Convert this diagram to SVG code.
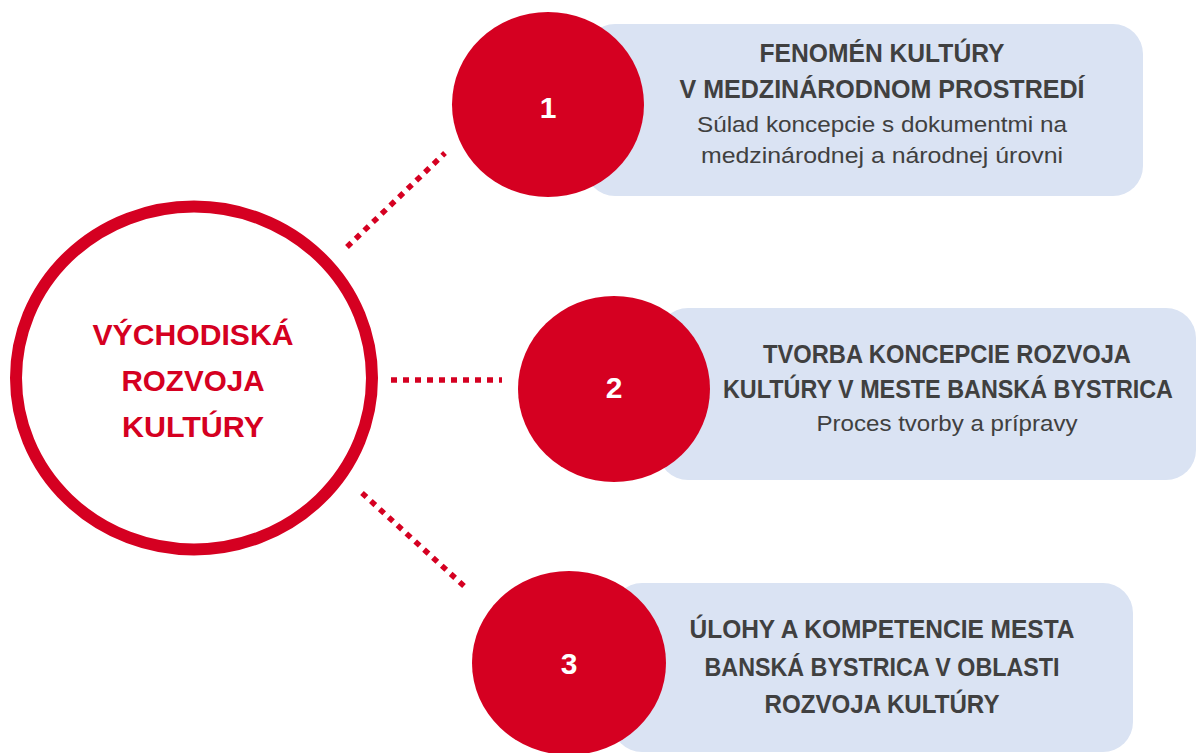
<svg xmlns="http://www.w3.org/2000/svg" width="1196" height="753" viewBox="0 0 1196 753">
  <style>
    .box { fill: #dae3f3; }
    .num { fill: #d50021; }
    .numtxt { font-family: "Liberation Sans", Arial, sans-serif; font-weight: bold; font-size: 30px; fill: #ffffff; text-anchor: middle; }
    .head { font-family: "Liberation Sans", Arial, sans-serif; font-weight: bold; font-size: 25px; fill: #404040; text-anchor: middle; }
    .sub { font-family: "Liberation Sans", Arial, sans-serif; font-size: 22px; fill: #404040; text-anchor: middle; }
    .main { font-family: "Liberation Sans", Arial, sans-serif; font-weight: bold; font-size: 30px; fill: #d50021; text-anchor: middle; }
    .dot { stroke: #d50021; stroke-width: 5.5; stroke-dasharray: 6 6; fill: none; }
  </style>
  <rect width="1196" height="753" fill="#ffffff"/>

  <g id="connectors">
    <line class="dot" x1="347" y1="247" x2="445" y2="153"/>
    <line class="dot" x1="391" y1="380" x2="502" y2="380"/>
    <line class="dot" x1="362" y1="493" x2="464" y2="586"/>
  </g>

  <g id="center">
    <ellipse cx="194" cy="378" rx="178" ry="171.5" fill="#ffffff" stroke="#d50021" stroke-width="12"/>
    <text class="main" x="193" y="345" textLength="201" lengthAdjust="spacingAndGlyphs">VÝCHODISKÁ</text>
    <text class="main" x="193" y="391" textLength="143" lengthAdjust="spacingAndGlyphs">ROZVOJA</text>
    <text class="main" x="193" y="437" textLength="142" lengthAdjust="spacingAndGlyphs">KULTÚRY</text>
  </g>

  <g id="node1">
    <rect class="box" x="585" y="24" width="558" height="172" rx="30" ry="30"/>
    <ellipse class="num" cx="548" cy="104.5" rx="96" ry="92.5"/>
    <text class="numtxt" x="548" y="118">1</text>
    <text class="head" x="882" y="62" textLength="245" lengthAdjust="spacingAndGlyphs">FENOMÉN KULTÚRY</text>
    <text class="head" x="882" y="98" textLength="405" lengthAdjust="spacingAndGlyphs">V MEDZINÁRODNOM PROSTREDÍ</text>
    <text class="sub" x="882" y="132" textLength="370" lengthAdjust="spacingAndGlyphs">Súlad koncepcie s dokumentmi na</text>
    <text class="sub" x="882" y="163" textLength="362" lengthAdjust="spacingAndGlyphs">medzinárodnej a národnej úrovni</text>
  </g>

  <g id="node2">
    <rect class="box" x="658" y="308" width="538" height="172" rx="30" ry="30"/>
    <ellipse class="num" cx="614" cy="389" rx="96" ry="93"/>
    <text class="numtxt" x="614" y="398">2</text>
    <text class="head" x="947" y="363" textLength="368" lengthAdjust="spacingAndGlyphs">TVORBA KONCEPCIE ROZVOJA</text>
    <text class="head" x="948" y="398" font-size="24" textLength="450" lengthAdjust="spacingAndGlyphs">KULTÚRY V MESTE BANSKÁ BYSTRICA</text>
    <text class="sub" x="947" y="431" textLength="261" lengthAdjust="spacingAndGlyphs">Proces tvorby a prípravy</text>
  </g>

  <g id="node3">
    <rect class="box" x="612" y="583" width="521" height="169" rx="30" ry="30"/>
    <ellipse class="num" cx="569" cy="663" rx="97" ry="92"/>
    <text class="numtxt" x="569" y="674">3</text>
    <text class="head" x="882" y="638" textLength="385" lengthAdjust="spacingAndGlyphs">ÚLOHY A KOMPETENCIE MESTA</text>
    <text class="head" x="882" y="676" textLength="355" lengthAdjust="spacingAndGlyphs">BANSKÁ BYSTRICA V OBLASTI</text>
    <text class="head" x="882" y="713" textLength="235" lengthAdjust="spacingAndGlyphs">ROZVOJA KULTÚRY</text>
  </g>
</svg>
